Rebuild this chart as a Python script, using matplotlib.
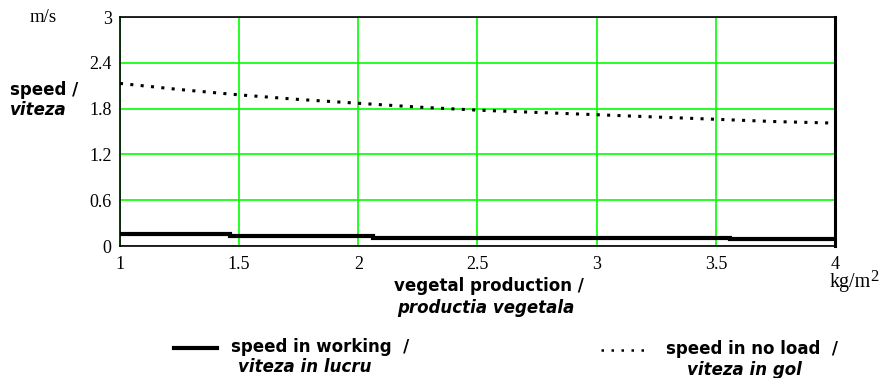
import numpy as np
import matplotlib
matplotlib.use("Agg")
import matplotlib.pyplot as plt
from matplotlib.lines import Line2D

# -------------------------------
# data
# -------------------------------
production = [1.0, 1.25, 1.5, 1.75, 2.0, 2.25, 2.5, 2.75, 3.0, 3.25, 3.5, 3.75, 4.0]
speed_no_load = [2.13, 2.05, 1.98, 1.92, 1.87, 1.82, 1.78, 1.75, 1.72, 1.69, 1.66, 1.63, 1.61]

work_edges = [1.0, 1.46, 2.06, 3.56, 4.0]
speed_working = [0.155, 0.135, 0.11, 0.09]

x_ticks = [1, 1.5, 2, 2.5, 3, 3.5, 4]
x_tick_labels = ["1", "1.5", "2", "2.5", "3", "3.5", "4"]
y_ticks = [0, 0.6, 1.2, 1.8, 2.4, 3]
y_tick_labels = ["0", "0.6", "1.2", "1.8", "2.4", "3"]

serif = "Liberation Serif"
sans = "DejaVu Sans"
lab_size = 12
tick_size = 13
green = "#00ff00"

# -------------------------------
# figure
# -------------------------------
fig = plt.figure(figsize=(8.88, 3.78), dpi=100)
ax = fig.add_axes([0.1351, 0.3492, 0.8052, 0.6058])

ax.stairs(speed_working, work_edges, color="black", lw=3.0, baseline=None)
ax.plot(production, speed_no_load, color="black", lw=2.2,
        linestyle=(0, (1, 2.4)), dash_capstyle="butt")

ax.set_xlim(1, 4)
ax.set_ylim(0, 3)
ax.set_xticks(x_ticks)
ax.set_xticklabels(x_tick_labels, family=serif, fontsize=tick_size)
ax.set_yticks(y_ticks)
ax.set_yticklabels(y_tick_labels, family=serif, fontsize=tick_size)
ax.tick_params(axis="x", length=0, pad=7)
ax.tick_params(axis="y", length=0, pad=6)
ax.grid(True, color=green, lw=1.2)
ax.set_axisbelow(True)
for s in ax.spines.values():
    s.set_color("black")
    s.set_linewidth(1.2)
ax.spines["right"].set_linewidth(2.2)

# units and axis titles
fig.text(43 / 888, 1 - 18 / 378, "m/s", family=serif, fontsize=13.5,
         ha="center", va="center")
fig.text(10 / 888, 1 - 90 / 378, "speed /", family=sans, fontsize=lab_size,
         weight="bold", ha="left", va="center")
fig.text(10 / 888, 1 - 110 / 378, "viteza", family=sans, fontsize=lab_size,
         weight="bold", style="italic", ha="left", va="center")
fig.text(489 / 888, 1 - 286 / 378, "vegetal production /", family=sans,
         fontsize=lab_size, weight="bold", ha="center", va="center")
fig.text(486 / 888, 1 - 308 / 378, "productia vegetala", family=sans,
         fontsize=lab_size, weight="bold", style="italic", ha="center", va="center")
fig.text(830 / 888, 1 - 287 / 378, "kg/m", family=serif, fontsize=14.5,
         ha="left", va="baseline")
fig.text(870 / 888, 1 - 281 / 378, "2", family=serif, fontsize=12,
         ha="left", va="baseline")

# legend drawn by hand
fig.add_artist(Line2D([174 / 888, 217 / 888], [1 - 348 / 378, 1 - 348 / 378],
                      color="black", lw=3.0))
fig.text(231 / 888, 1 - 347 / 378, "speed in working  /", family=sans,
         fontsize=lab_size, weight="bold", ha="left", va="center")
fig.text(238 / 888, 1 - 367 / 378, "viteza in lucru", family=sans,
         fontsize=lab_size, weight="bold", style="italic", ha="left", va="center")
fig.add_artist(Line2D([601 / 888, 645 / 888], [1 - 350 / 378, 1 - 350 / 378],
                      color="black", lw=1.8, linestyle=(0, (1, 3)),
                      dash_capstyle="butt"))
fig.text(666 / 888, 1 - 349 / 378, "speed in no load  /", family=sans,
         fontsize=lab_size, weight="bold", ha="left", va="center")
fig.text(687 / 888, 1 - 370 / 378, "viteza in gol", family=sans,
         fontsize=lab_size, weight="bold", style="italic", ha="left", va="center")

fig.savefig("out.png", dpi=100)
